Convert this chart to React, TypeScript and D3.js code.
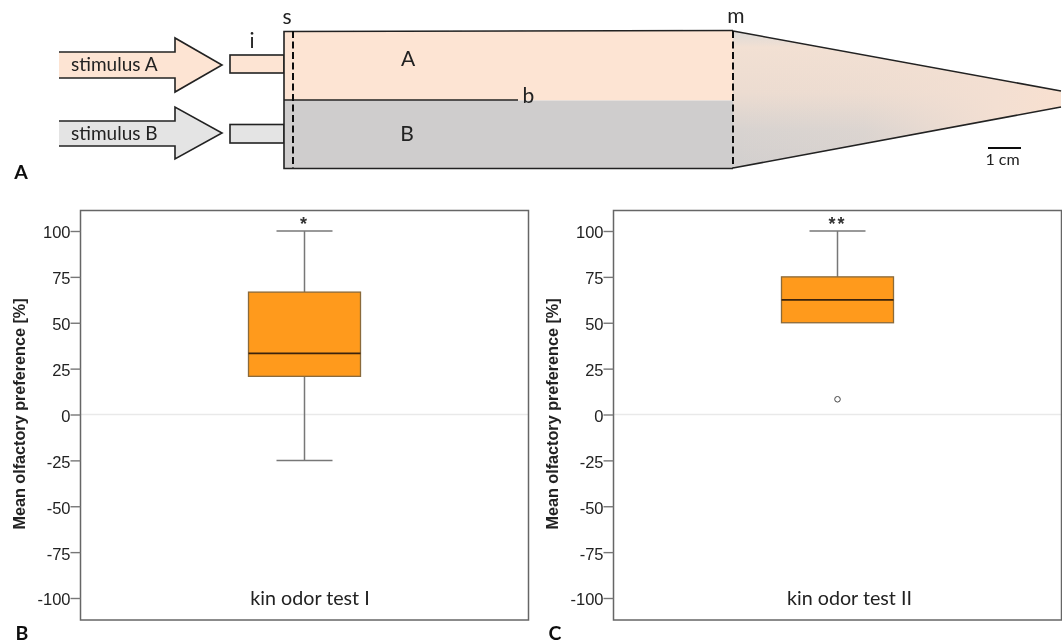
import React, { useEffect, useRef } from "react";
import * as d3 from "d3";

const yTicks = [100, 75, 50, 25, 0, -25, -50, -75, -100];
const yTickLabels = ["100", "75", "50", "25", "0", "-25", "-50", "-75", "-100"];
const panelNames = ["kin odor test I", "kin odor test II"];
const panelLetters = ["B", "C"];
const whiskerHigh = [100, 100];
const whiskerLow = [-25, 50];
const quartile3 = [66.7, 75];
const medians = [33.3, 62.5];
const quartile1 = [20.8, 50];
const outliers: number[][] = [[], [8.3]];
const stars = ["*", "**"];
const frameLeft = [80.5, 613.5];
const yTitle = "Mean olfactory preference [%]";

const W = 1064, H = 644;
const body = "Lato";
const FW = 448;
const yScale = d3.scaleLinear().domain([-100, 100]).range([598, 231]);

function YAxis({ x }: { x: number }) {
  const ref = useRef<SVGGElement>(null);
  useEffect(() => {
    const g = d3.select(ref.current!);
    g.call(
      d3.axisLeft(yScale).tickValues(yTicks).tickSize(10).tickPadding(0)
        .tickFormat((d) => yTickLabels[yTicks.indexOf(d as number)]) as any
    );
    g.attr("font-family", null).attr("font-size", null);
    g.select(".domain").remove();
    g.selectAll(".tick line").attr("stroke", "#777").attr("stroke-width", 1.4);
    g.selectAll(".tick text").attr("fill", "#222").attr("dy", "0.42em")
      .style("font-family", "'Liberation Sans'").style("font-size", "16.5px");
  }, []);
  return <g ref={ref} transform={`translate(${x},0)`} />;
}

function Panel({ i }: { i: number }) {
  const L = frameLeft[i];
  const x = d3.scaleLinear().domain([0, 1]).range([L, L + FW]);
  const cx = x(0.5);
  const boxW = 112, capW = 56;
  return (
    <g>
      <line x1={L} x2={L + FW} y1={yScale(0)} y2={yScale(0)} stroke="#e9e9e9" strokeWidth={1.4} />
      <rect x={L} y={210.5} width={FW} height={409.5} fill="none" stroke="#666" strokeWidth={1.5} />
      <YAxis x={L} />
      <text transform={`translate(${L - 55.5},414) rotate(-90)`} textAnchor="middle" style={{ fontFamily: "'Liberation Sans'" }} fontWeight="bold" fontSize={16.2} fill="#222">{yTitle}</text>
      <line x1={cx} x2={cx} y1={yScale(whiskerHigh[i])} y2={yScale(quartile3[i])} stroke="#777" strokeWidth={1.5} />
      <line x1={cx} x2={cx} y1={yScale(quartile1[i])} y2={yScale(whiskerLow[i])} stroke="#777" strokeWidth={1.5} />
      <line x1={cx - capW / 2} x2={cx + capW / 2} y1={yScale(whiskerHigh[i])} y2={yScale(whiskerHigh[i])} stroke="#777" strokeWidth={1.5} />
      {i === 0 && <line x1={cx - capW / 2} x2={cx + capW / 2} y1={yScale(whiskerLow[i])} y2={yScale(whiskerLow[i])} stroke="#777" strokeWidth={1.5} />}
      <rect x={cx - boxW / 2} y={yScale(quartile3[i])} width={boxW} height={yScale(quartile1[i]) - yScale(quartile3[i])} fill="#ff9a1c" stroke="#8a6a3a" strokeWidth={1.3} />
      <line x1={cx - boxW / 2} x2={cx + boxW / 2} y1={yScale(medians[i])} y2={yScale(medians[i])} stroke="#3a2208" strokeWidth={1.8} />
      {outliers[i].map((v) => <circle key={v} cx={cx} cy={yScale(v)} r={2.8} fill="#fff" stroke="#444" strokeWidth={1} />)}
      <text x={cx} y={230} textAnchor="middle" style={{ fontFamily: "'Liberation Sans'" }} fontSize={18} fontWeight="bold" letterSpacing={2} fill="#333">{stars[i]}</text>
      <text x={i === 0 ? 310 : 849.5} y={605} textAnchor="middle" fontFamily={body} fontSize={19.7} fill="#222">{panelNames[i]}</text>
      <text x={i === 0 ? 22 : 555} y={639.5} textAnchor="middle" fontFamily={body} fontSize={19.5} fontWeight="bold" fill="#111">{panelLetters[i]}</text>
    </g>
  );
}

function arrowPath(y: number, top: number, bottom: number, headTop: number, headBottom: number) {
  return d3.line()([[59, top], [175, top], [175, headTop], [222, y], [175, headBottom], [175, bottom], [59, bottom]])!;
}

function Schematic() {
  const peach = "#fde4d3", gray = "#cfcdcd", light = "#e4e4e4", ink = "#222";
  const coneP = "M733,31 L1061,91 L1061,107 L733,168 Z";
  const t = { fontFamily: body, fill: "#222" };
  return (
    <g>
      <defs>
        <linearGradient id="coneV" x1="0" x2="0" y1="0" y2="1">
          <stop offset="0" stopColor="#dcdad8" />
          <stop offset="0.12" stopColor="#f2e0d3" />
          <stop offset="0.45" stopColor="#ecdcd1" />
          <stop offset="0.72" stopColor="#d8d3d0" />
          <stop offset="1" stopColor="#d2cfce" />
        </linearGradient>
        <linearGradient id="coneH" x1="0" x2="1" y1="0" y2="0">
          <stop offset="0" stopColor="#f3dfd2" stopOpacity={0} />
          <stop offset="0.4" stopColor="#f3dfd2" stopOpacity={0.15} />
          <stop offset="0.8" stopColor="#f3dfd2" stopOpacity={1} />
          <stop offset="1" stopColor="#f8e0d0" stopOpacity={1} />
        </linearGradient>
      </defs>
      <path d={arrowPath(65, 52, 78, 38, 92)} fill={peach} />
      <path d={arrowPath(133, 121, 146, 107, 159)} fill={light} />
      <path d="M59,52 H175 V38 L222,65 L175,92 V78 H59" fill="none" stroke={ink} strokeWidth={1.6} />
      <path d="M59,121 H175 V107 L222,133 L175,159 V146 H59" fill="none" stroke={ink} strokeWidth={1.6} />
      <text {...t} x={71} y={71} fontSize={19}>stimulus A</text>
      <text {...t} x={71} y={140} fontSize={19}>stimulus B</text>
      <rect x={230} y={55} width={54} height={18} fill={peach} stroke={ink} strokeWidth={1.6} />
      <rect x={230} y={124.5} width={54} height={18.5} fill={light} stroke={ink} strokeWidth={1.6} />
      <path d="M284,31.5 L733,30.5 V100.5 H284 Z" fill={peach} />
      <rect x={284} y={100.5} width={449} height={68} fill={gray} />
      <path d={coneP} fill="url(#coneV)" />
      <path d={coneP} fill="url(#coneH)" />
      <path d="M733,31 L1061,91 M733,168 L1061,107" stroke={ink} strokeWidth={1.6} fill="none" />
      <path d="M733,168.5 H284 V31.5 L733,30.5" fill="none" stroke={ink} strokeWidth={1.6} />
      <line x1={284} x2={518} y1={100} y2={100} stroke={ink} strokeWidth={1.4} />
      <line x1={293} x2={293} y1={31} y2={168} stroke="#111" strokeWidth={2} strokeDasharray="7 3.5" />
      <line x1={733} x2={733} y1={31} y2={168} stroke="#111" strokeWidth={2} strokeDasharray="7 3.5" />
      <text {...t} x={287} y={24} textAnchor="middle" fontSize={21}>s</text>
      <text {...t} x={252} y={48} textAnchor="middle" fontSize={21}>i</text>
      <text {...t} x={736} y={23} textAnchor="middle" fontSize={21}>m</text>
      <text {...t} x={528.5} y={103} textAnchor="middle" fontSize={21}>b</text>
      <text {...t} x={408} y={66} textAnchor="middle" fontSize={21}>A</text>
      <text {...t} x={407} y={141} textAnchor="middle" fontSize={21}>B</text>
      <line x1={988} x2={1021} y1={148} y2={148} stroke="#111" strokeWidth={2} />
      <text {...t} x={1002.5} y={165} textAnchor="middle" fontSize={16}>1 cm</text>
      <text x={21} y={179} textAnchor="middle" fontFamily={body} fontSize={19.5} fontWeight="bold" fill="#111">A</text>
    </g>
  );
}

export default function App() {
  return (
    <svg width={W} height={H} viewBox={`0 0 ${W} ${H}`} style={{ position: "absolute", left: 0, top: 0, display: "block", background: "#fff" }}>
      <defs>
        <filter id="soft" x="0" y="0" width="100%" height="100%">
          <feGaussianBlur stdDeviation="0.35" />
        </filter>
      </defs>
      <g filter="url(#soft)">
        <Schematic />
        {panelNames.map((_, i) => <Panel key={i} i={i} />)}
      </g>
    </svg>
  );
}
